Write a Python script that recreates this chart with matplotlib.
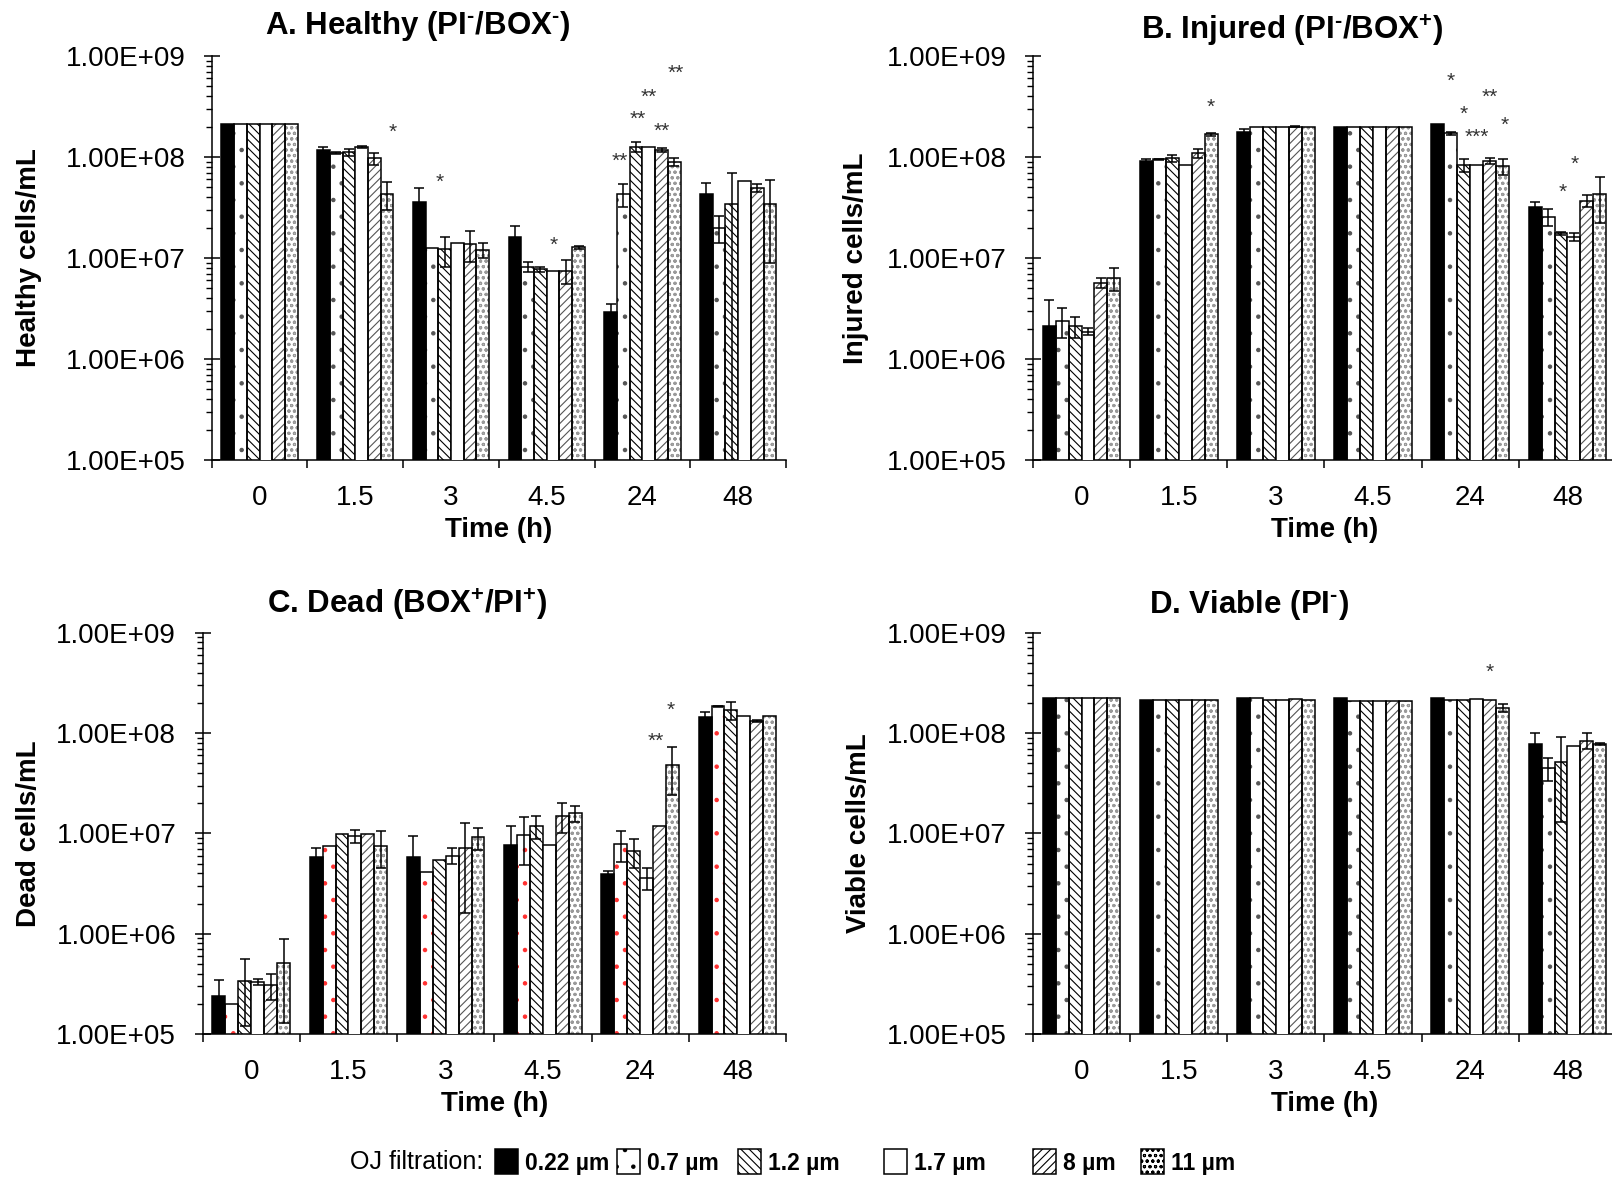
import numpy as np
import matplotlib
matplotlib.use('Agg')
import matplotlib.pyplot as plt
from matplotlib.patches import Patch
from matplotlib.ticker import LogLocator, FuncFormatter, NullFormatter

plt.rcParams['font.family'] = ['Liberation Sans', 'DejaVu Sans']
plt.rcParams['hatch.linewidth'] = 0.8
plt.rcParams['mathtext.fontset'] = 'custom'
plt.rcParams['mathtext.rm'] = 'Liberation Sans:bold'
plt.rcParams['mathtext.bf'] = 'Liberation Sans:bold'

times = ['0', '1.5', '3', '4.5', '24', '48']
filters = ['0.22 µm', '0.7 µm', '1.2 µm', '1.7 µm', '8 µm', '11 µm']

# rows = time point, columns = filter size (cells/mL)
healthy = [
    [2.1e8, 2.1e8, 2.1e8, 2.1e8, 2.1e8, 2.1e8],
    [1.16e8, 1.09e8, 1.11e8, 1.25e8, 9.7e7, 4.3e7],
    [3.56e7, 1.25e7, 1.22e7, 1.42e7, 1.38e7, 1.2e7],
    [1.63e7, 8.2e6, 7.7e6, 7.5e6, 7.5e6, 1.28e7],
    [2.94e6, 4.3e7, 1.26e8, 1.26e8, 1.17e8, 9.0e7],
    [4.3e7, 2.0e7, 3.4e7, 5.8e7, 4.9e7, 3.4e7],
]
healthy_sd = [
    [0, 0, 0, 0, 0, 0],
    [1.0e7, 3e6, 9e6, 2e6, 1.35e7, 1.3e7],
    [1.35e7, 0, 4e6, 0, 4.7e6, 2e6],
    [4.5e6, 1e6, 5e5, 0, 2e6, 4e5],
    [5.6e5, 1.1e7, 1.5e7, 0, 6e6, 8.5e6],
    [1.25e7, 6e6, 3.5e7, 0, 4.5e6, 2.5e7],
]

injured = [
    [2.1e6, 2.4e6, 2.1e6, 1.86e6, 5.7e6, 6.3e6],
    [9.2e7, 9.5e7, 9.7e7, 8.3e7, 1.09e8, 1.68e8],
    [1.78e8, 2.0e8, 2.0e8, 1.98e8, 2.0e8, 1.96e8],
    [2.0e8, 2.0e8, 2.0e8, 2.0e8, 2.0e8, 1.96e8],
    [2.14e8, 1.71e8, 8.3e7, 8.3e7, 9.2e7, 8.1e7],
    [3.2e7, 2.56e7, 1.75e7, 1.63e7, 3.7e7, 4.3e7],
]
injured_sd = [
    [1.7e6, 8e5, 5e5, 1.5e5, 6e5, 1.6e6],
    [4e6, 1e6, 7e6, 0, 1.2e7, 6e6],
    [1.2e7, 0, 0, 0, 3e6, 0],
    [0, 0, 0, 0, 0, 0],
    [0, 7e6, 1.2e7, 0, 6e6, 1.5e7],
    [4e6, 5e6, 5e5, 1.5e6, 5e6, 2.1e7],
]

dead = [
    [2.38e5, 2.0e5, 3.4e5, 3.3e5, 3.1e5, 5.1e5],
    [5.8e6, 7.5e6, 9.8e6, 9.4e6, 9.8e6, 7.5e6],
    [5.8e6, 4.1e6, 5.4e6, 6.0e6, 7.2e6, 9.1e6],
    [7.6e6, 9.6e6, 1.18e7, 7.6e6, 1.5e7, 1.58e7],
    [3.9e6, 7.9e6, 6.6e6, 3.6e6, 1.18e7, 4.8e7],
    [1.43e8, 1.84e8, 1.7e8, 1.47e8, 1.31e8, 1.47e8],
]
dead_sd = [
    [1.1e5, 0, 2.2e5, 2.5e4, 9e4, 3.8e5],
    [1.4e6, 0, 0, 1.3e6, 0, 3.0e6],
    [3.7e6, 0, 0, 1.1e6, 5.6e6, 2.3e6],
    [4.2e6, 4.8e6, 3e6, 0, 4.9e6, 2.9e6],
    [3e5, 2.7e6, 2.1e6, 9e5, 0, 2.4e7],
    [1.8e7, 3e6, 3.4e7, 0, 3e6, 0],
]

viable = [
    [2.23e8, 2.23e8, 2.23e8, 2.23e8, 2.23e8, 2.23e8],
    [2.14e8, 2.14e8, 2.14e8, 2.14e8, 2.14e8, 2.14e8],
    [2.26e8, 2.23e8, 2.14e8, 2.14e8, 2.18e8, 2.14e8],
    [2.26e8, 2.07e8, 2.07e8, 2.1e8, 2.07e8, 2.07e8],
    [2.23e8, 2.14e8, 2.14e8, 2.2e8, 2.14e8, 1.77e8],
    [7.8e7, 4.5e7, 5.2e7, 7.5e7, 8.4e7, 7.8e7],
]
viable_sd = [
    [0, 0, 0, 0, 0, 0],
    [0, 0, 0, 0, 0, 0],
    [0, 0, 0, 0, 0, 0],
    [0, 0, 0, 0, 0, 0],
    [0, 0, 0, 0, 0, 1.6e7],
    [2.2e7, 1.2e7, 3.9e7, 0, 1.5e7, 2e6],
]

# significance marks: (x in category units, y in cells/mL, text)
healthy_stars = [(1.39, 1.97e8, '*'), (1.88, 6.4e7, '*'), (3.07, 1.53e7, '*'),
                 (3.76, 1.02e8, '**'), (3.95, 2.7e8, '**'), (4.07, 4.4e8, '**'),
                 (4.35, 7.7e8, '**'), (4.20, 2.04e8, '**')]
injured_stars = [(1.33, 3.53e8, '*'), (3.80, 6.3e8, '*'), (4.20, 4.4e8, '**'),
                 (3.93, 3.03e8, '*'), (4.35, 2.32e8, '*'), (4.07, 1.78e8, '***'),
                 (4.95, 5.1e7, '*'), (5.07, 9.7e7, '*')]
dead_stars = [(4.16, 9.3e7, '**'), (4.31, 1.91e8, '*')]
viable_stars = [(4.20, 4.6e8, '*')]

bar_w = 0.133
# (face, hatch, hatch colour) per filter
styles = [('black', None, None), ('white', '.', '#555555'), ('white', '\\\\\\\\', 'black'),
          ('white', None, None), ('white', '////', '#555555'), ('white', 'ooo', '#9a9a9a')]


def draw_panel(ax, means, sds, stars, title, tpos, ylabel, ylab_x, dot_color):
    means = np.array(means, dtype=float)
    sds = np.array(sds, dtype=float)
    ax.set_yscale('log')
    x = np.arange(len(times))
    for k in range(len(filters)):
        xk = x + (k - 2.5) * bar_w
        face, hatch, hcol = styles[k]
        if k == 1:
            hcol = dot_color
        if hatch:
            ax.bar(xk, means[:, k], bar_w, color='white', edgecolor=hcol, hatch=hatch,
                   linewidth=0, zorder=2)
            ax.bar(xk, means[:, k], bar_w, color='none', edgecolor='black', linewidth=1.1, zorder=3)
        else:
            ax.bar(xk, means[:, k], bar_w, color=face, edgecolor='black', linewidth=1.1, zorder=3)
        has = sds[:, k] > 0
        if has.any():
            ax.errorbar(xk[has], means[has, k], yerr=sds[has, k], fmt='none', ecolor='black',
                        elinewidth=1.1, capsize=3.6, capthick=1.1, zorder=4)

    for sx, sy, lab in stars:
        ax.annotate(lab, (sx, sy), xytext=(0, -4), textcoords='offset points', ha='center',
                    va='center', fontsize=15, color='#333333', zorder=5)

    ax.set_xlim(-0.5, 5.5)
    ax.set_ylim(1e5, 1e9)
    ax.yaxis.set_major_locator(LogLocator(base=10, numticks=10))
    ax.yaxis.set_major_formatter(FuncFormatter(lambda v, p: f'{v:.2E}'))
    ax.yaxis.set_minor_locator(LogLocator(base=10, subs=np.arange(2, 10), numticks=40))
    ax.yaxis.set_minor_formatter(NullFormatter())
    ax.tick_params(axis='y', which='major', direction='inout', length=12, width=1.1,
                   labelsize=20, pad=13)
    ax.tick_params(axis='y', which='minor', direction='out', length=4.3, width=1.0)

    ax.set_xticks(x)
    ax.set_xticklabels(times)
    ax.set_xticks(np.arange(-0.5, 6, 1), minor=True)
    ax.tick_params(axis='x', which='major', length=0, labelsize=20, pad=18)
    ax.tick_params(axis='x', which='minor', direction='out', length=6, width=1.1)

    for s in ['top', 'right']:
        ax.spines[s].set_visible(False)
    for s in ['left', 'bottom']:
        ax.spines[s].set_linewidth(1.1)

    ax.set_ylabel(ylabel, fontsize=20, fontweight='bold')
    ax.yaxis.label.set_va('center')
    ax.yaxis.set_label_coords(ylab_x, 0.5)
    ax.set_xlabel('Time (h)', fontsize=20, fontweight='bold')
    ax.xaxis.label.set_va('center')
    ax.xaxis.set_label_coords(0.5, -0.174)

    ax.text(tpos[0], tpos[1], title, transform=ax.transAxes, ha='center', va='center',
            fontsize=22.5, fontweight='bold')


fig = plt.figure(figsize=(16.12, 11.78), dpi=100)
axA = fig.add_axes([0.1313, 0.6095, 0.3563, 0.343])
axB = fig.add_axes([0.6408, 0.6095, 0.3617, 0.343])
axC = fig.add_axes([0.1257, 0.1222, 0.3619, 0.3407])
axD = fig.add_axes([0.6408, 0.1222, 0.3617, 0.3407])

draw_panel(axA, healthy, healthy_sd, healthy_stars, r'A. Healthy (PI$^{\text{-}}$/BOX$^{\text{-}}$)',
           (0.359, 1.073), 'Healthy cells/mL', -0.318, '#555555')
draw_panel(axB, injured, injured_sd, injured_stars, r'B. Injured (PI$^{\text{-}}$/BOX$^{\text{+}}$)',
           (0.445, 1.063), 'Injured cells/mL', -0.304, '#555555')
draw_panel(axC, dead, dead_sd, dead_stars, r'C. Dead (BOX$^{\text{+}}$/PI$^{\text{+}}$)',
           (0.35, 1.07), 'Dead cells/mL', -0.298, '#ff3030')
draw_panel(axD, viable, viable_sd, viable_stars, r'D. Viable (PI$^{\text{-}}$)',
           (0.37, 1.07), 'Viable cells/mL', -0.298, '#555555')

# legend row along the bottom
leg_y = 1 - 1162 / 1178
fig.text(350 / 1612, leg_y, 'OJ filtration:', ha='left', va='center', fontsize=18)
swatch_x = [495, 617, 738, 884, 1033, 1141]
for k, lab in enumerate(filters):
    face, hatch, hcol = styles[k]
    h = Patch(facecolor=face, edgecolor='black', hatch=hatch, linewidth=1.1)
    fig.legend(handles=[h], labels=[lab], loc='center left',
               bbox_to_anchor=(swatch_x[k] / 1612, leg_y), frameon=False, borderpad=0,
               borderaxespad=0, handlelength=1.0, handleheight=1.3, handletextpad=0.3,
               prop=dict(weight='bold', size=16.5))

fig.savefig('out.png', dpi=100)
